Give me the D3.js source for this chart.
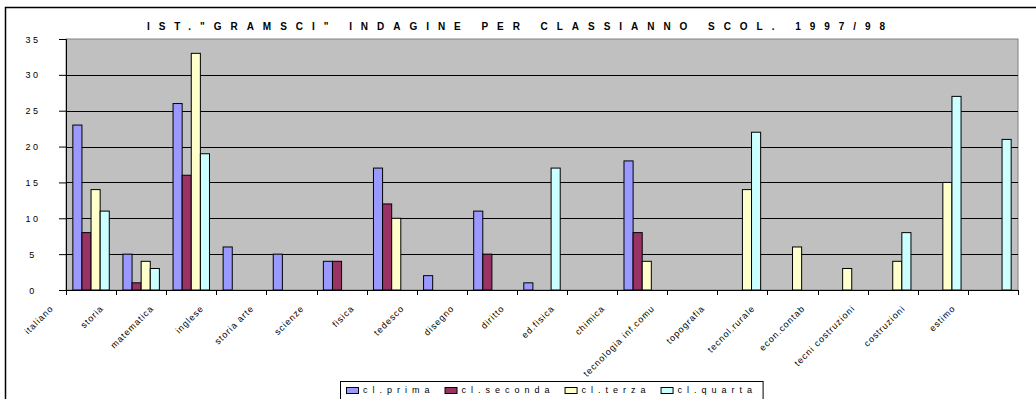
<!DOCTYPE html>
<html><head><meta charset="utf-8">
<script src="https://cdn.jsdelivr.net/npm/d3@7"></script>
<style>
body{margin:0;background:#fff;overflow:hidden}
svg{display:block}
text{font-family:"Liberation Sans",Arial,sans-serif;fill:#000}
</style>
</head><body><svg id="c" width="1036" height="399"></svg>
<script>
// ---- data ----
const title = 'IST."GRAMSCI" INDAGINE PER CLASSIANNO SCOL. 1997/98';
const categories = ["italiano","storia","matematica","inglese","storia arte","scienze","fisica","tedesco","disegno","diritto","ed.fisica","chimica","tecnologia inf.comu","topografia","tecnol.rurale","econ.contab","tecni costruzioni","costruzioni","estimo"];
const seriesNames = ["cl.prima","cl.seconda","cl.terza","cl.quarta"];
const prima   = [23, 5, 26, 6, 5, 4, 17, 2, 11, 1, 0, 18, 0, 0, 0, 0, 0, 0, 0];
const seconda = [ 8, 1, 16, 0, 0, 4, 12, 0,  5, 0, 0,  8, 0, 0, 0, 0, 0, 0, 0];
const terza   = [14, 4, 33, 0, 0, 0, 10, 0,  0, 0, 0,  4, 0,14, 6, 3, 4,15, 0];
const quarta  = [11, 3, 19, 0, 0, 0,  0, 0,  0,17, 0,  0, 0,22, 0, 0, 8,27,21];
const yTicks = [0, 5, 10, 15, 20, 25, 30, 35];
const colors = ["#9999FF","#993366","#FFFFCC","#CCFFFF"];

const series = [prima, seconda, terza, quarta];

// ---- layout ----
const svg = d3.select("#c");
const plot = {left: 66, right: 1018, top: 39, bottom: 290};

// outer chart border
svg.append("rect").attr("x",5.5).attr("y",7.5).attr("width",1045).attr("height",410)
  .attr("fill","#fff").attr("stroke","#000").attr("stroke-width",1.5);

const x = d3.scaleBand().domain(categories).range([plot.left, plot.right]).paddingInner(0).paddingOuter(0);
const xs = d3.scaleBand().domain(seriesNames).range([0, x.bandwidth()]).paddingInner(0).paddingOuter(0.75);
const y = d3.scaleLinear().domain([0, 35]).range([plot.bottom, plot.top]);

// plot background
svg.append("rect").attr("x",plot.left).attr("y",plot.top)
  .attr("width",plot.right-plot.left).attr("height",plot.bottom-plot.top)
  .attr("fill","#C0C0C0").attr("stroke","#808080").attr("stroke-width",1);

// gridlines
svg.append("g").selectAll("line").data(yTicks.filter(d => d > 0 && d < 35)).join("line")
  .attr("x1",plot.left).attr("x2",plot.right)
  .attr("y1",d => Math.round(y(d))+0.5).attr("y2",d => Math.round(y(d))+0.5)
  .attr("stroke","#000").attr("stroke-width",1);

// bars
const barData = [];
categories.forEach((c, i) => {
  seriesNames.forEach((s, j) => {
    const v = series[j][i];
    if (v > 0) barData.push({c, s, v, j});
  });
});
svg.append("g").selectAll("rect").data(barData).join("rect")
  .attr("x", d => x(d.c) + xs(d.s))
  .attr("y", d => y(d.v))
  .attr("width", xs.bandwidth())
  .attr("height", d => y(0) - y(d.v))
  .attr("fill", d => colors[d.j])
  .attr("stroke","#000").attr("stroke-width",1);

// y axis
const yAxis = svg.append("g").attr("transform",`translate(${plot.left},0)`)
  .call(d3.axisLeft(y).tickValues(yTicks).tickSize(7).tickPadding(0).tickFormat(d => d));
yAxis.attr("font-family",null).attr("font-size",null);
yAxis.select(".domain").attr("stroke","#000");
yAxis.selectAll(".tick line").attr("stroke","#000");
yAxis.selectAll(".tick text")
  .attr("x",-33).attr("text-anchor","middle").attr("dy","0.34em")
  .attr("font-size","9px").attr("letter-spacing","2.5px");

// x axis line + boundary ticks
const bounds = categories.map(c => x(c)).concat([x.range()[1]]);
svg.append("line").attr("x1",plot.left).attr("x2",plot.right)
  .attr("y1",plot.bottom+0.5).attr("y2",plot.bottom+0.5).attr("stroke","#000");
svg.append("g").selectAll("line").data(bounds).join("line")
  .attr("x1",d => Math.round(d)+0.5).attr("x2",d => Math.round(d)+0.5)
  .attr("y1",plot.bottom).attr("y2",plot.bottom+5).attr("stroke","#000");

// x labels (rotated 45 degrees)
svg.append("g").selectAll("text").data(categories).join("text")
  .attr("x", 0).attr("y", 0)
  .attr("transform", d => "translate(" + (x(d) - 12) + ",309) rotate(-45)")
  .attr("text-anchor","end")
  .attr("font-size","9px").attr("letter-spacing","1px")
  .text(d => d);

// title
svg.append("text").attr("x",147).attr("y",29.5)
  .attr("textLength",738).attr("lengthAdjust","spacing")
  .attr("font-size","10px").attr("font-weight","bold")
  .text(title);

// legend
const lg = svg.append("g");
const lgBox = lg.append("rect").attr("x",340.5).attr("y",381.5).attr("height",40)
  .attr("fill","#fff").attr("stroke","#000").attr("stroke-width",1);
let cx = 346;
seriesNames.forEach((s, j) => {
  lg.append("rect").attr("x",cx+0.5).attr("y",387.5).attr("width",12).attr("height",6)
    .attr("fill",colors[j]).attr("stroke","#000").attr("stroke-width",1);
  const t = lg.append("text").attr("x",cx+17).attr("y",393)
    .attr("font-size","9px").attr("letter-spacing","5px").text(s);
  const w = t.node().getComputedTextLength();
  cx = cx + 17 + w + 10;
});
lgBox.attr("width", cx - 340.5 - 4);
</script>
</body></html>
